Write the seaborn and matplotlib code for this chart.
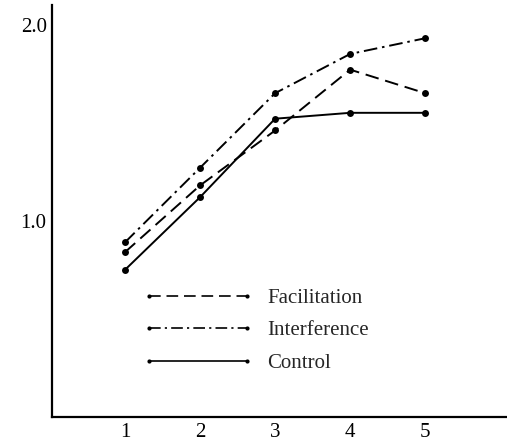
import matplotlib
matplotlib.use("Agg")
import matplotlib.pyplot as plt
import seaborn as sns
import pandas as pd
from matplotlib.lines import Line2D

sessions = [1, 2, 3, 4, 5]
facilitation = [0.84, 1.18, 1.46, 1.77, 1.65]
interference = [0.89, 1.27, 1.65, 1.85, 1.93]
control = [0.75, 1.12, 1.52, 1.55, 1.55]
series_names = ["Facilitation", "Interference", "Control"]
ytick_vals = [0.5, 1.0, 1.5, 2.0]
ytick_labels = ["", "1.0", "", "2.0"]

sns.set_style("white")
plt.rcParams['font.family'] = ['Liberation Serif', 'DejaVu Serif']

df = pd.DataFrame({
    "session": sessions * 3,
    "value": facilitation + interference + control,
    "group": [n for n in series_names for _ in sessions],
})

styles = {
    "Facilitation": (0, (7, 3.5)),
    "Interference": (0, (7, 2.5, 1.3, 2.5)),
    "Control": "-",
}

fig = plt.figure(figsize=(5.07, 4.45), dpi=100)
ax = fig.add_axes([0.103, 0.063, 0.897, 0.926])

for name in series_names:
    sub = df[df["group"] == name]
    sns.lineplot(data=sub, x="session", y="value", ax=ax, color="black",
                 linestyle=styles[name], linewidth=1.4, marker="o",
                 markersize=5, markeredgewidth=0, legend=False)

ax.set_xlim(0.03, 6.09)
ax.set_ylim(0, 2.1)
ax.set_xticks(sessions)
ax.set_yticks(ytick_vals)
ax.set_yticklabels(ytick_labels)
ax.set_xlabel("")
ax.set_ylabel("")
for s in ["top", "right"]:
    ax.spines[s].set_visible(False)
for s in ["left", "bottom"]:
    ax.spines[s].set_linewidth(1.6)
    ax.spines[s].set_color("black")
ax.tick_params(direction="in", length=5, width=1.8, labelsize=15, colors="black", pad=4)

handles = [Line2D([0], [0], color="black", linestyle=styles[n], linewidth=1.2,
                  marker="o", markersize=3, markeredgewidth=0) for n in series_names]
fig.legend(handles, series_names, loc="upper left",
           bbox_to_anchor=(0.281, 0.352), bbox_transform=fig.transFigure,
           frameon=False, fontsize=15, numpoints=2, handlelength=5.3,
           handletextpad=0.7, labelspacing=0.62, borderpad=0, borderaxespad=0)

fig.savefig("out.png", dpi=100, facecolor="white")
